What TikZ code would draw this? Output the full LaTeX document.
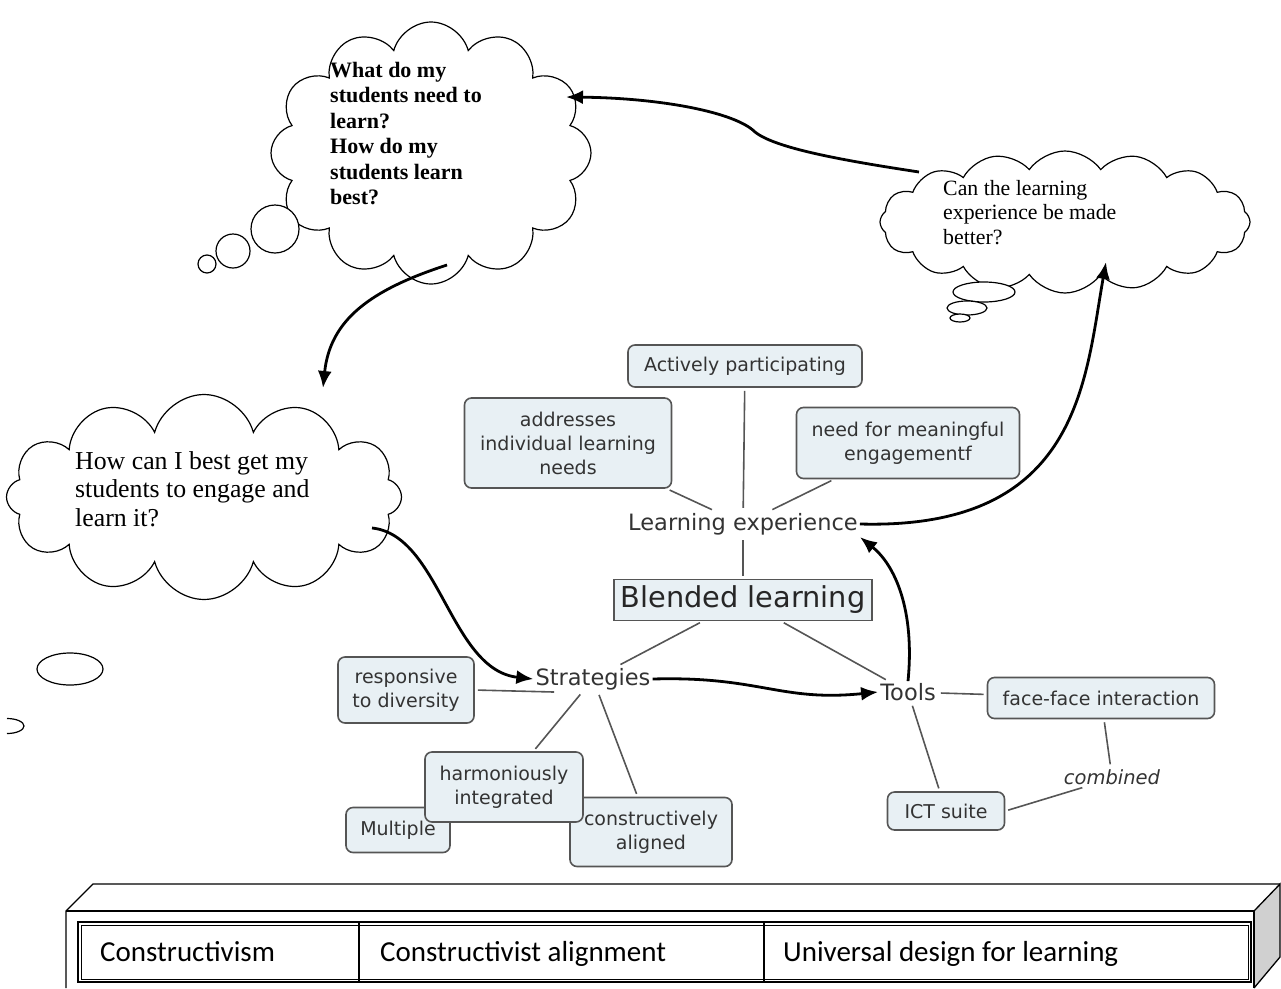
\documentclass[tikz,border=0pt]{standalone}
\usepackage{fontspec}
\setmainfont{Liberation Serif}
\newfontfamily\vfont{DejaVu Sans}
\newfontfamily\cfont{Carlito}
\usetikzlibrary{shapes.symbols,arrows.meta,calc}
\definecolor{cmapfill}{HTML}{E8F0F4}
\definecolor{cmapline}{HTML}{555555}
\definecolor{sidegray}{HTML}{D0D0D0}
\begin{document}
\begin{tikzpicture}[x=1pt,y=-1pt,
  cloudbox/.style={cloud, draw=black, line width=1.2pt, cloud puffs=#1, cloud ignores aspect, inner sep=0pt, fill=white},
  bubble/.style={draw=black, line width=1.2pt, fill=white},
  thought/.style={inner sep=0pt, align=left, anchor=north west, text=black},
  concept/.style={draw=cmapline, fill=cmapfill, rounded corners=7pt, line width=1.6pt,
     font=\vfont\fontsize{19}{24}\selectfont, text=black!80, align=center, inner sep=0pt},
  plain/.style={font=\vfont\fontsize{22.5}{26}\selectfont, text=black!80, inner sep=2pt},
  link/.style={draw=cmapline, line width=1.6pt, shorten <=3pt, shorten >=3pt},
  bigarrow/.style={line width=2.8pt, -{Latex[length=17pt,width=14pt]}},
  slab/.style={draw=black, line width=1.3pt},
  celltext/.style={font=\cfont\fontsize{29}{33}\selectfont, anchor=base west, inner sep=0pt},
]
\useasboundingbox (0,0) rectangle (1281,988);

% ---------- clouds ----------
\node[cloudbox=12, minimum width=320pt, minimum height=262pt] (c1) at (431,153) {};
\node[cloudbox=16, cloud puff arc=110, minimum width=370pt, minimum height=142pt] (c2) at (1065,222) {};
\node[cloudbox=12, minimum width=395pt, minimum height=205pt] (c3) at (204,497) {};

\draw[bubble] (275,229) circle (24);
\draw[bubble] (233,251) circle (17);
\draw[bubble] (207,264) circle (9);

\draw[bubble] (984,292) ellipse (31 and 10);
\draw[bubble] (967,308) ellipse (20 and 7);
\draw[bubble] (960,318) ellipse (10 and 4);

\draw[bubble] (70,669) ellipse (33 and 16);
\draw[black, line width=1.2pt] (7,733.5) arc[start angle=90, end angle=-90, x radius=17, y radius=7.5];

\node[thought, font=\bfseries\fontsize{22}{25.4}\selectfont] (t1) at (330,62)
  {What do my\\students need to\\learn?\\How do my\\students learn\\best?};
\node[thought, font=\fontsize{21.8}{24.5}\selectfont] (t2) at (943,180)
  {Can the learning\\experience be made\\better?};
\node[thought, font=\fontsize{25.8}{28.5}\selectfont] (t3) at (75,451)
  {How can I best get my\\students to engage and\\learn it?};

% ---------- concept map ----------
\node[concept, minimum width=234pt, minimum height=42pt] (ap) at (745,366) {Actively participating};
\node[concept, minimum width=207pt, minimum height=90pt] (addr) at (568,443) {addresses\\individual learning\\needs};
\node[concept, minimum width=223pt, minimum height=71pt] (need) at (908,443) {need for meaningful\\engagementf};
\node[plain] (le) at (743,524) {Learning experience};
\node[draw=cmapline, fill=cmapfill, line width=1.6pt, minimum width=258pt, minimum height=41pt, inner sep=0pt,
      font=\vfont\fontsize{28.8}{32}\selectfont, text=black!85] (bl) at (743,600) {Blended learning};
\node[plain] (strat) at (593,679) {Strategies};
\node[plain] (tools) at (908,692) {Tools};
\node[concept, minimum width=136pt, minimum height=66pt] (resp) at (406,690) {responsive\\to diversity};
\node[concept, minimum width=104pt, minimum height=45pt] (mult) at (398,830) {Multiple};
\node[concept, minimum width=162pt, minimum height=69pt] (cons) at (651,832) {constructively\\aligned};
\node[concept, minimum width=158pt, minimum height=70pt] (harm) at (504,787) {harmoniously\\integrated};
\node[concept, minimum width=227pt, minimum height=41pt] (ff) at (1101,698) {face-face interaction};
\node[concept, minimum width=117pt, minimum height=38pt] (ict) at (946,811) {ICT suite};
\node[font=\vfont\itshape\fontsize{19.5}{22}\selectfont, text=black!80, inner sep=2pt] (comb) at (1112,777) {combined};

\draw[link] (ap) -- (le);
\draw[link] (addr) -- (le);
\draw[link] (need) -- (le);
\draw[link] (le) -- (bl);
\draw[link] (bl) -- (strat);
\draw[link] (bl) -- (tools);
\draw[link] (strat.200) -- (resp.east);
\draw[link] (strat) -- (harm);
\draw[link] (strat) -- (cons);
\draw[link] (tools) -- (ict);
\draw[link] (tools) -- (ff);
\draw[link] (ff) -- (comb);
\draw[link] (comb.200) -- (ict.east);

% ---------- thick arrows ----------
\coordinate (a1s) at (919,172);
\coordinate (a1k) at (755,132);
\coordinate (a1e) at (566,97);
\coordinate (a2s) at (447,265);
\coordinate (a2e) at (323,388);
\coordinate (a3s) at (372,528);
\coordinate (a6e) at (1106,262);
\draw[bigarrow] (a1s) .. controls (840,160) and (775,148) .. (a1k)
                      .. controls (735,112) and (660,98) .. (a1e);
\draw[bigarrow] (a2s) .. controls (370,290) and (330,320) .. (a2e);
\draw[bigarrow] (a3s) .. controls (440,535) and (450,670) .. (strat.west);
\draw[bigarrow] (strat.east) .. controls (760,676) and (780,702) .. (tools.west);
\draw[bigarrow] (tools.north) .. controls (915,610) and (895,565) .. (le.south east);
\draw[bigarrow] (le.east) .. controls (1080,530) and (1085,380) .. (a6e);

% ---------- bottom slab ----------
\fill[sidegray] (1254,911) -- (1280,884) -- (1280,957) -- (1254,988) -- cycle;
\draw[slab] (1254,911) -- (1280,884) -- (1280,957) -- (1254,988);
\draw[slab] (66,988) -- (66,911) -- (93,884) -- (1280,884);
\draw[slab] (1254,988) -- (1254,911);
\draw[black, line width=2.4pt] (66,911) -- (1254,911);
\draw[black, line width=1.6pt] (78,922) rectangle (1251,982);
\draw[black, line width=0.6pt] (81,925) rectangle (1248,979);
\draw[black, line width=1.2pt] (359,922) -- (359,982);
\draw[black, line width=1.2pt] (764,922) -- (764,982);
\node[celltext] (k1) at (100,961) {Constructivism};
\node[celltext] (k2) at (380,961) {Constructivist alignment};
\node[celltext] (k3) at (783,961) {Universal design for learning};
\end{tikzpicture}
\end{document}
